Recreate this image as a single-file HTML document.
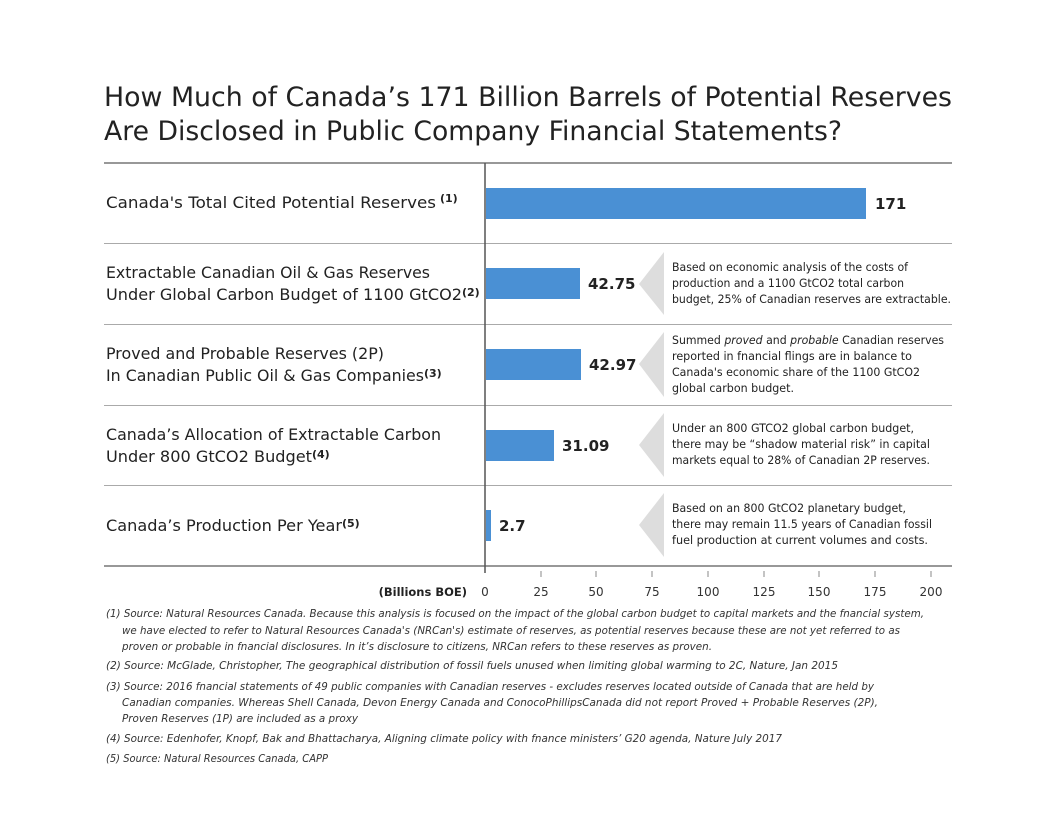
<!DOCTYPE html>
<html><head><meta charset="utf-8"><style>
body{margin:0;background:#fff}
svg{display:block}
text{font-family:"DejaVu Sans","Liberation Sans",sans-serif;fill:#222}
.t{font-size:27px;fill:#222}
.l{font-size:16px;fill:#222}
.v{font-size:15px;font-weight:bold}
.n{font-size:11.5px;fill:#222}
.f{font-size:11px;font-style:italic;fill:#333}
.k{font-size:12px;fill:#333}
</style></head><body>
<svg width="1056" height="816" viewBox="0 0 1056 816">
<rect width="1056" height="816" fill="#fff"/>
<text class="t" x="104" y="106" textLength="848" lengthAdjust="spacingAndGlyphs">How Much of Canada’s 171 Billion Barrels of Potential Reserves</text>
<text class="t" x="104" y="140" textLength="738" lengthAdjust="spacingAndGlyphs">Are Disclosed in Public Company Financial Statements?</text>
<line x1="104" y1="163" x2="952" y2="163" stroke="#777" stroke-width="1.5"/>
<line x1="104" y1="243.5" x2="952" y2="243.5" stroke="#aaa"/>
<line x1="104" y1="324.5" x2="952" y2="324.5" stroke="#aaa"/>
<line x1="104" y1="405.5" x2="952" y2="405.5" stroke="#aaa"/>
<line x1="104" y1="485.5" x2="952" y2="485.5" stroke="#aaa"/>
<line x1="104" y1="566" x2="952" y2="566" stroke="#777" stroke-width="1.5"/>
<line x1="485" y1="163" x2="485" y2="573" stroke="#555" stroke-width="1.5"/>
<g fill="#4a90d4">
<rect x="486" y="188" width="380" height="31"/>
<rect x="486" y="268" width="94" height="31"/>
<rect x="486" y="349" width="95" height="31"/>
<rect x="486" y="430" width="68" height="31"/>
<rect x="486" y="510" width="5" height="31"/>
</g>
<text class="v" x="875" y="209">171</text>
<text class="v" x="588" y="289">42.75</text>
<text class="v" x="589" y="370">42.97</text>
<text class="v" x="562" y="451">31.09</text>
<text class="v" x="499" y="531">2.7</text>
<text class="l" x="106" y="208" textLength="330" lengthAdjust="spacingAndGlyphs">Canada's Total Cited Potential Reserves</text><text x="440" y="202" style="font-size:11px;font-weight:bold">(1)</text>
<text class="l" x="106" y="278" textLength="324" lengthAdjust="spacingAndGlyphs">Extractable Canadian Oil &amp; Gas Reserves</text>
<text class="l" x="106" y="300" textLength="356" lengthAdjust="spacingAndGlyphs">Under Global Carbon Budget of 1100 GtCO2</text><text x="462" y="296" style="font-size:11px;font-weight:bold">(2)</text>
<text class="l" x="106" y="359" textLength="278" lengthAdjust="spacingAndGlyphs">Proved and Probable Reserves (2P)</text>
<text class="l" x="106" y="381" textLength="318" lengthAdjust="spacingAndGlyphs">In Canadian Public Oil &amp; Gas Companies</text><text x="424" y="377" style="font-size:11px;font-weight:bold">(3)</text>
<text class="l" x="106" y="440" textLength="335" lengthAdjust="spacingAndGlyphs">Canada’s Allocation of Extractable Carbon</text>
<text class="l" x="106" y="462" textLength="206" lengthAdjust="spacingAndGlyphs">Under 800 GtCO2 Budget</text><text x="312" y="458" style="font-size:11px;font-weight:bold">(4)</text>
<text class="l" x="106" y="531" textLength="236" lengthAdjust="spacingAndGlyphs">Canada’s Production Per Year</text><text x="342" y="527" style="font-size:11px;font-weight:bold">(5)</text>
<g fill="#ddd">
<polygon points="664,252 664,315 639,284"/>
<polygon points="664,332 664,397 639,364"/>
<polygon points="664,413 664,477 639,445"/>
<polygon points="664,493 664,557 639,525"/>
</g>
<text class="n" x="672" y="271" textLength="236" lengthAdjust="spacingAndGlyphs">Based on economic analysis of the costs of</text>
<text class="n" x="672" y="287" textLength="232" lengthAdjust="spacingAndGlyphs">production and a 1100 GtCO2 total carbon</text>
<text class="n" x="672" y="303" textLength="279" lengthAdjust="spacingAndGlyphs">budget, 25% of Canadian reserves are extractable.</text>
<text class="n" x="672" y="344" textLength="272" lengthAdjust="spacingAndGlyphs">Summed <tspan font-style="italic">proved</tspan> and <tspan font-style="italic">probable</tspan> Canadian reserves</text>
<text class="n" x="672" y="360" textLength="240" lengthAdjust="spacingAndGlyphs">reported in fnancial flings are in balance to</text>
<text class="n" x="672" y="376" textLength="248" lengthAdjust="spacingAndGlyphs">Canada's economic share of the 1100 GtCO2</text>
<text class="n" x="672" y="392" textLength="122" lengthAdjust="spacingAndGlyphs">global carbon budget.</text>
<text class="n" x="672" y="432" textLength="242" lengthAdjust="spacingAndGlyphs">Under an 800 GTCO2 global carbon budget,</text>
<text class="n" x="672" y="448" textLength="258" lengthAdjust="spacingAndGlyphs">there may be “shadow material risk” in capital</text>
<text class="n" x="672" y="464" textLength="258" lengthAdjust="spacingAndGlyphs">markets equal to 28% of Canadian 2P reserves.</text>
<text class="n" x="672" y="512" textLength="234" lengthAdjust="spacingAndGlyphs">Based on an 800 GtCO2 planetary budget,</text>
<text class="n" x="672" y="528" textLength="260" lengthAdjust="spacingAndGlyphs">there may remain 11.5 years of Canadian  fossil</text>
<text class="n" x="672" y="544" textLength="256" lengthAdjust="spacingAndGlyphs">fuel production  at current  volumes and costs.</text>
<g stroke="#888">
<line x1="541" y1="571" x2="541" y2="577"/><line x1="596" y1="571" x2="596" y2="577"/><line x1="652" y1="571" x2="652" y2="577"/><line x1="708" y1="571" x2="708" y2="577"/><line x1="764" y1="571" x2="764" y2="577"/><line x1="819" y1="571" x2="819" y2="577"/><line x1="875" y1="571" x2="875" y2="577"/><line x1="931" y1="571" x2="931" y2="577"/>
</g>
<g class="k" text-anchor="middle">
<text class="k" x="485" y="596">0</text><text class="k" x="541" y="596">25</text><text class="k" x="596" y="596">50</text><text class="k" x="652" y="596">75</text><text class="k" x="708" y="596">100</text><text class="k" x="764" y="596">125</text><text class="k" x="819" y="596">150</text><text class="k" x="875" y="596">175</text><text class="k" x="931" y="596">200</text>
</g>
<text x="467" y="596" text-anchor="end" style="font-size:11.5px;font-weight:bold">(Billions BOE)</text>
<text class="f" x="106" y="617" textLength="818" lengthAdjust="spacingAndGlyphs">(1) Source: Natural Resources Canada. Because this analysis is focused on the impact of the global carbon budget to capital markets and the fnancial system,</text>
<text class="f" x="122" y="634" textLength="778" lengthAdjust="spacingAndGlyphs">we have elected to refer to Natural Resources Canada's (NRCan's) estimate of reserves, as potential reserves because these are not yet referred to as</text>
<text class="f" x="122" y="650" textLength="590" lengthAdjust="spacingAndGlyphs">proven or probable in fnancial disclosures. In it’s disclosure to citizens, NRCan refers to these reserves as proven.</text>
<text class="f" x="106" y="669" textLength="732" lengthAdjust="spacingAndGlyphs">(2) Source: McGlade, Christopher, The geographical distribution of fossil fuels unused when limiting global warming to 2C, Nature, Jan 2015</text>
<text class="f" x="106" y="690" textLength="768" lengthAdjust="spacingAndGlyphs">(3) Source: 2016 fnancial statements of 49 public companies with Canadian reserves - excludes reserves located outside of Canada that are held by</text>
<text class="f" x="122" y="706" textLength="756" lengthAdjust="spacingAndGlyphs">Canadian companies. Whereas Shell Canada, Devon Energy Canada and ConocoPhillipsCanada did not report Proved + Probable Reserves (2P),</text>
<text class="f" x="122" y="722" textLength="236" lengthAdjust="spacingAndGlyphs">Proven Reserves (1P) are included as a proxy</text>
<text class="f" x="106" y="742" textLength="676" lengthAdjust="spacingAndGlyphs">(4) Source: Edenhofer, Knopf, Bak and Bhattacharya, Aligning climate policy with fnance ministers’ G20 agenda, Nature July 2017</text>
<text class="f" x="106" y="762" textLength="222" lengthAdjust="spacingAndGlyphs">(5) Source: Natural Resources Canada, CAPP</text>
</svg>
</body></html>
